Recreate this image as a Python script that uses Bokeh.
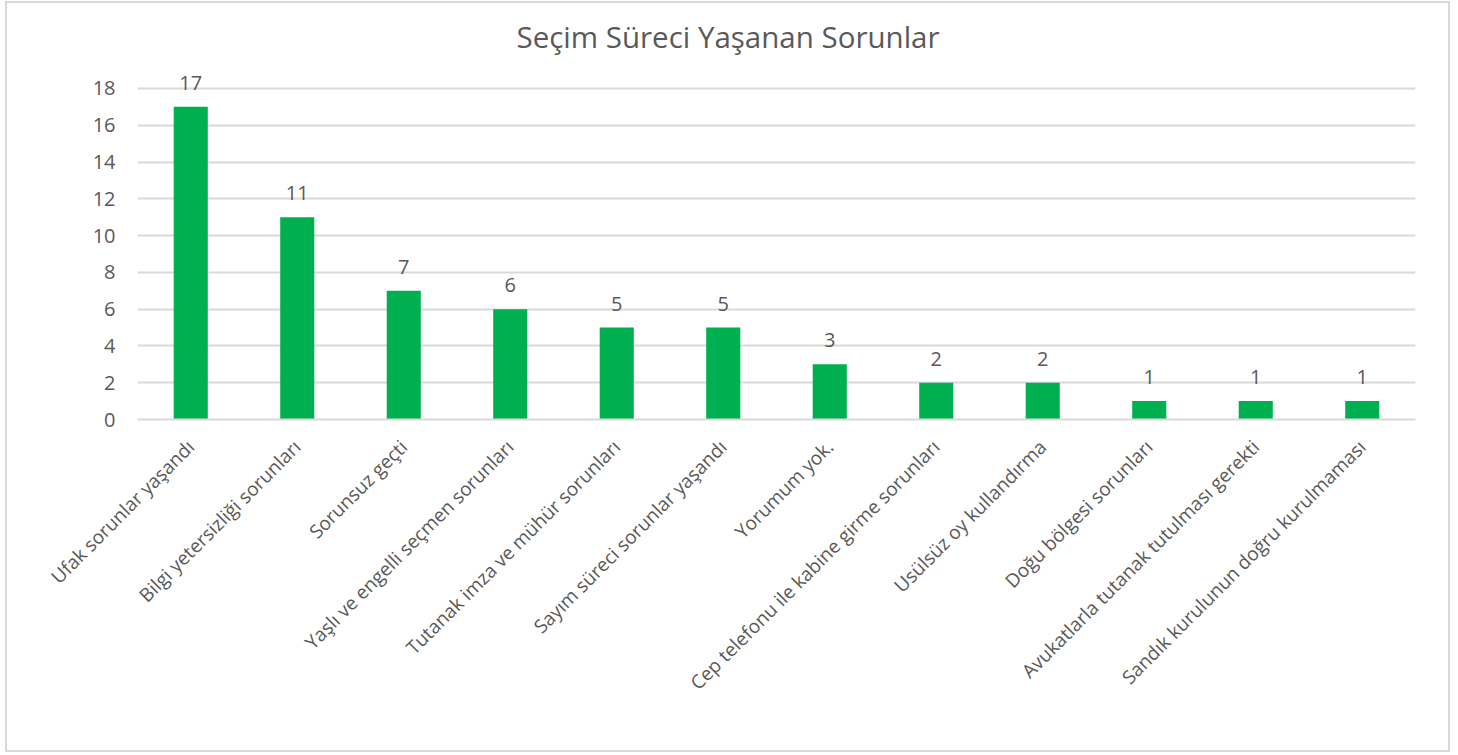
import math
from bokeh.plotting import figure
from bokeh.models import ColumnDataSource, LabelSet, Range1d, FixedTicker
from bokeh.core.properties import value
from bokeh.embed import file_html
from bokeh.resources import INLINE

categories = [
    "Ufak sorunlar yaşandı",
    "Bilgi yetersizliği sorunları",
    "Sorunsuz geçti",
    "Yaşlı ve engelli seçmen sorunları",
    "Tutanak imza ve mühür sorunları",
    "Sayım süreci sorunlar yaşandı",
    "Yorumum yok.",
    "Cep telefonu ile kabine girme sorunları",
    "Usülsüz oy kullandırma",
    "Doğu bölgesi sorunları",
    "Avukatlarla tutanak tutulması gerekti",
    "Sandık kurulunun doğru kurulmaması",
]
values = [17, 11, 7, 6, 5, 5, 3, 2, 2, 1, 1, 1]
y_ticks = [0, 2, 4, 6, 8, 10, 12, 14, 16, 18]
title_text = "Seçim Süreci Yaşanan Sorunlar"

FONT = "Open Sans"
TXT = "#595959"
GRID = "#d9d9d9"
GREEN = "#00b050"

source = ColumnDataSource(dict(cat=categories, val=values, lbl=[str(v) for v in values]))

p = figure(
    x_range=categories,
    y_range=Range1d(0, 19.52),
    width=1445,
    height=751,
    output_backend="svg",
    toolbar_location=None,
    min_border_left=130,
    min_border_right=37,
    min_border_top=57,
    min_border_bottom=335,
)
p.styles = {"border": "2px solid #d9d9d9", "box-sizing": "border-box",
            "margin-left": "5px", "margin-top": "1px"}

p.vbar(x="cat", top="val", width=0.32, source=source, color=GREEN, line_color=None)

labels = LabelSet(x="cat", y="val", text="lbl", source=source, text_align="center",
                  text_baseline="bottom", y_offset=17, text_font=value(FONT),
                  text_font_size="20px", text_color=TXT)
p.add_layout(labels)

p.title.text = title_text
p.title.align = "left"
p.title.offset = 379
p.title.text_font = FONT
p.title.text_font_size = "29.5px"
p.title.text_font_style = "normal"
p.title.text_color = TXT
p.title.standoff = 8

p.outline_line_color = None
p.xgrid.grid_line_color = None
p.ygrid.grid_line_color = GRID
p.ygrid.grid_line_width = 2
p.yaxis.ticker = FixedTicker(ticks=y_ticks)
p.yaxis.axis_line_color = None
p.yaxis.major_tick_line_color = None
p.yaxis.minor_tick_line_color = None
p.yaxis.major_label_text_font = FONT
p.yaxis.major_label_text_font_size = "20px"
p.yaxis.major_label_text_color = TXT
p.yaxis.major_label_standoff = 16

p.xaxis.axis_line_color = GRID
p.xaxis.axis_line_width = 2
p.xaxis.major_tick_line_color = None
p.xaxis.minor_tick_line_color = None
p.xaxis.major_label_orientation = math.pi / 4
p.xaxis.major_label_text_font = FONT
p.xaxis.major_label_text_font_size = "19px"
p.xaxis.major_label_text_color = TXT
p.xaxis.major_label_standoff = 18
p.x_range.range_padding = 0

open("out.html", "w").write(file_html(p, INLINE))
